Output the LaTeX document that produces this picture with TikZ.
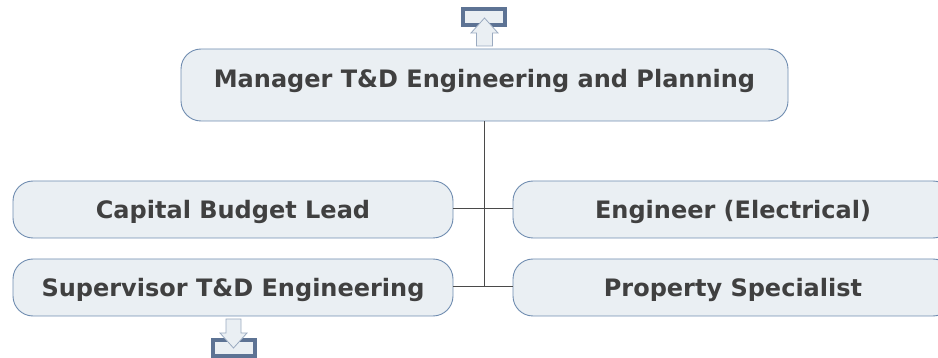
\documentclass[tikz,border=0pt]{standalone}
\usepackage{fontspec}
\setmainfont{DejaVu Sans}
\definecolor{boxfill}{HTML}{EAEFF3}
\definecolor{boxline}{HTML}{6F8CB0}
\definecolor{txt}{HTML}{404040}
\definecolor{conn}{HTML}{4A4A4A}
\definecolor{icon}{HTML}{5D7394}
\definecolor{arrline}{HTML}{9AAAC0}
\begin{document}
\begin{tikzpicture}[x=1pt,y=-1pt,
  role/.style={draw=boxline, fill=boxfill, rounded corners=20pt, line width=0.9pt,
    text=txt, font=\bfseries\fontsize{24}{28}\selectfont, inner sep=0pt,
    text height=17.5pt, text depth=0pt},
  conn/.style={draw=conn, line width=1pt},
  iconbox/.style={draw=icon, fill=boxfill, line width=4pt},
  iconarr/.style={draw=arrline, fill=boxfill, line width=0.8pt}]
\useasboundingbox (0,0) rectangle (938,358);
\node[role, minimum width=607pt, minimum height=72pt] (mgr) at (484.5,85) {\raisebox{6pt}{Manager T\&D Engineering and Planning}};
\node[role, minimum width=440pt, minimum height=57pt] (cap) at (233,209.5) {Capital Budget Lead};
\node[role, minimum width=440pt, minimum height=57pt] (sup) at (233,287.5) {Supervisor T\&D Engineering};
\node[role, minimum width=440pt, minimum height=57pt] (eng) at (733,209.5) {Engineer (Electrical)};
\node[role, minimum width=440pt, minimum height=57pt] (prop) at (733,287.5) {Property Specialist};
\coordinate (j1) at (484,209);
\coordinate (j2) at (484,287);
\draw[conn] (mgr.south -| j2) -- (j2);
\draw[conn] (cap.east |- j1) -- (eng.west |- j1);
\draw[conn] (sup.east |- j2) -- (prop.west |- j2);
% up icon
\draw[iconbox] (463,9) rectangle (505,25) coordinate (upbox);
\draw[iconarr] (476.5,46) -- (476.5,33) -- (471,33) -- (484.5,18) -- (498,33) -- (492.5,33) -- (492.5,46) -- cycle;
% down icon
\draw[iconbox] (213,340) rectangle (255,356) coordinate (downbox);
\draw[iconarr] (226,319) -- (226,333) -- (220,333) -- (233.5,348) -- (247,333) -- (241,333) -- (241,319) -- cycle;
\end{tikzpicture}
\end{document}
